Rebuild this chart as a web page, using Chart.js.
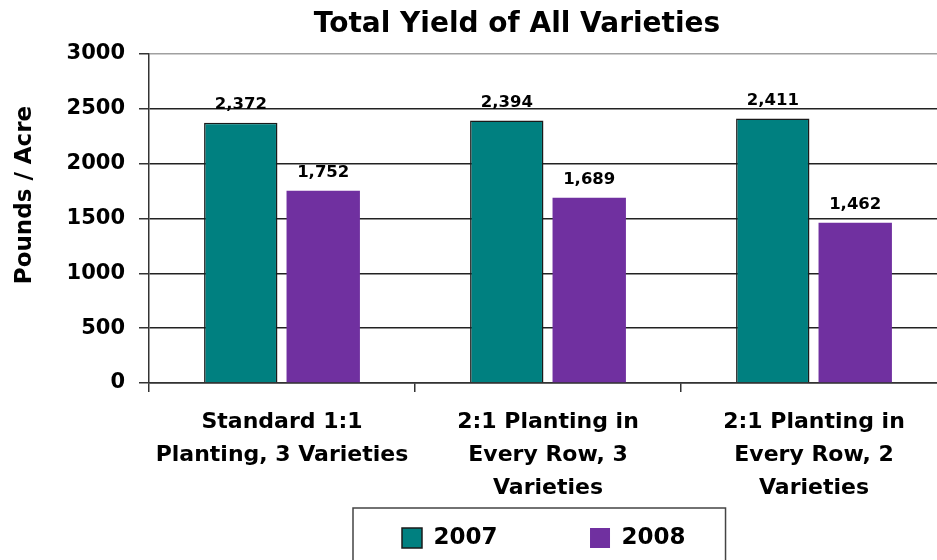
<!DOCTYPE html>
<html>
<head>
<meta charset="utf-8">
<script src="https://cdn.jsdelivr.net/npm/chart.js@4.4.1/dist/chart.umd.min.js"></script>
<style>
  html, body { margin: 0; padding: 0; background: #ffffff; }
  #wrap { width: 937px; height: 560px; position: relative; }
</style>
</head>
<body>
<div id="wrap"><canvas id="chart"></canvas></div>
<script>
// ---- data ----
const chartTitle = 'Total Yield of All Varieties';
const yAxisTitle = 'Pounds / Acre';
const categories = [
  ['Standard 1:1', 'Planting, 3 Varieties'],
  ['2:1 Planting in', 'Every Row, 3', 'Varieties'],
  ['2:1 Planting in', 'Every Row, 2', 'Varieties']
];
const seriesNames = ['2007', '2008'];
const values2007 = [2372, 2394, 2411];
const values2008 = [1752, 1689, 1462];
const yMin = 0;
const yMax = 3000;
const yStep = 500;

// ---- style ----
const FONT = "'DejaVu Sans', 'Liberation Sans', sans-serif";
const TEAL = '#008080';
const PURPLE = '#7030A0';

const dataLabels = {
  id: 'dataLabels',
  afterDatasetsDraw(chart) {
    const ctx = chart.ctx;
    ctx.save();
    ctx.font = 'bold 16.5px ' + FONT;
    ctx.fillStyle = '#000';
    ctx.textAlign = 'center';
    ctx.textBaseline = 'alphabetic';
    chart.data.datasets.forEach((ds, i) => {
      chart.getDatasetMeta(i).data.forEach((bar, j) => {
        ctx.fillText(ds.data[j].toLocaleString('en-US'), bar.x, bar.y - 13.5);
      });
    });
    ctx.restore();
  }
};

const layoutTweaks = {
  id: 'layoutTweaks',
  afterLayout(chart) {
    // the plot area runs slightly past the right edge of the picture
    const extra = 10;
    const xs = chart.scales.x;
    xs.right += extra;
    xs.width += extra;
    xs.configure();
    chart.chartArea.right += extra;
    chart.chartArea.width += extra;
    // centre the title as in the reference
    const t = chart.titleBlock;
    const shift = 517 - (t.left + t.right) / 2;
    t.left += shift;
    t.right += shift;
    // legend row placement
    const lg = chart.legend;
    const pad = lg.options.labels.padding;
    lg.left = 402 - pad;
    lg.right = 937;
    lg.top = 526.5 - pad;
    // y-axis title vertical position
    const ys = chart.scales.y;
    if (!ys._titlePatched) {
      const orig = ys.drawTitle;
      ys.drawTitle = function () {
        const b = this.bottom;
        this.bottom = b - 47;
        orig.call(this);
        this.bottom = b;
      };
      ys._titlePatched = true;
    }
  },
  afterDraw(chart) {
    const hb = chart.legend.legendHitBoxes;
    if (!hb || hb.length < 2) return;
    const ctx = chart.ctx;
    const left = hb[0].left - 49;
    const right = hb[hb.length - 1].left + hb[hb.length - 1].width + 40;
    const top = hb[0].top - 18.5;
    ctx.save();
    ctx.strokeStyle = '#444';
    ctx.lineWidth = 1.5;
    ctx.strokeRect(left, top, right - left, 80);
    ctx.restore();
  }
};

Chart.defaults.font.family = FONT;
Chart.defaults.color = '#000';

new Chart(document.getElementById('chart'), {
  type: 'bar',
  data: {
    labels: categories,
    datasets: [
      {
        label: seriesNames[0],
        data: values2007,
        backgroundColor: TEAL,
        borderColor: '#1a1a1a',
        borderWidth: 1.5,
        categoryPercentage: 0.62,
        barPercentage: 0.89
      },
      {
        label: seriesNames[1],
        data: values2008,
        backgroundColor: PURPLE,
        borderColor: PURPLE,
        borderWidth: 0,
        categoryPercentage: 0.62,
        barPercentage: 0.89
      }
    ]
  },
  options: {
    responsive: true,
    maintainAspectRatio: false,
    animation: false,
    events: [],
    layout: { padding: 0 },
    plugins: {
      title: {
        display: true,
        text: chartTitle,
        color: '#000',
        font: { size: 28, weight: 'bold', family: FONT },
        padding: { top: 8, bottom: 12.4 }
      },
      legend: {
        display: true,
        position: 'bottom',
        align: 'start',
        maxHeight: 60,
        labels: {
          color: '#000',
          font: { size: 23, weight: 'bold', family: FONT },
          boxWidth: 20,
          boxHeight: 20,
          padding: 92.5
        }
      },
      tooltip: { enabled: false }
    },
    scales: {
      x: {
        afterFit(scale) { scale.height = 117; },
        grid: {
          drawOnChartArea: false,
          drawTicks: true,
          tickLength: 9,
          color: '#333',
          lineWidth: 1.5
        },
        border: { color: '#333', width: 1.5 },
        ticks: {
          color: '#000',
          font: { size: 22, weight: 'bold', family: FONT, lineHeight: 1.5 },
          padding: 13.5,
          maxRotation: 0,
          minRotation: 0,
          autoSkip: false
        }
      },
      y: {
        min: yMin,
        max: yMax,
        afterFit(scale) { scale.width = 149; },
        ticks: {
          stepSize: yStep,
          color: '#000',
          font: { size: 21, weight: 'bold', family: FONT },
          padding: 14,
          callback: (v) => String(v)
        },
        grid: {
          color: (c) => (c.tick && c.tick.value === yMax ? '#a0a0a0' : '#222'),
          lineWidth: 1.5,
          drawTicks: true,
          tickLength: 10,
          tickColor: '#333'
        },
        border: { color: '#333', width: 1.5 },
        title: {
          display: true,
          text: yAxisTitle,
          color: '#000',
          font: { size: 23, weight: 'bold', family: FONT },
          padding: { top: 11, bottom: 0 }
        }
      }
    }
  },
  plugins: [dataLabels, layoutTweaks]
});
</script>
</body>
</html>
